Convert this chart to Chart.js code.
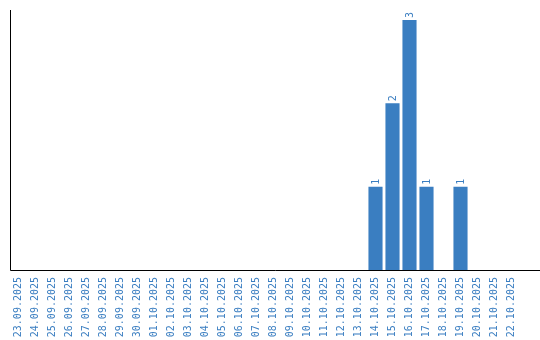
<!DOCTYPE html>
<meta charset="utf-8">
<title>Counts per day</title>
<script src="https://cdn.jsdelivr.net/npm/chart.js@4/dist/chart.umd.min.js"></script>
<style>
body {
	margin: 0;
	background: #fff;
}
.wrap {
	width: 540px;
	height: 340px;
}
</style>

<div class="wrap"><canvas id="c"></canvas></div>

<script>
const days = [
	'23.09.2025', '24.09.2025', '25.09.2025', '26.09.2025', '27.09.2025', '28.09.2025',
	'29.09.2025', '30.09.2025', '01.10.2025', '02.10.2025', '03.10.2025', '04.10.2025',
	'05.10.2025', '06.10.2025', '07.10.2025', '08.10.2025', '09.10.2025', '10.10.2025',
	'11.10.2025', '12.10.2025', '13.10.2025', '14.10.2025', '15.10.2025', '16.10.2025',
	'17.10.2025', '18.10.2025', '19.10.2025', '20.10.2025', '21.10.2025', '22.10.2025',
];
const counts = [
	0, 0, 0, 0, 0, 0,
	0, 0, 0, 0, 0, 0,
	0, 0, 0, 0, 0, 0,
	0, 0, 0, 1, 2, 3,
	1, 0, 1, 0, 0, 0,
];

const blue = '#3a7ec1';
const font = '"DejaVu Sans Mono", monospace';

// axis lines: bottom one runs to the right edge of the canvas
const axisLines = {
	id: 'axisLines',
	afterDraw(chart) {
		const {ctx, chartArea: a} = chart;
		ctx.save();
		ctx.strokeStyle = '#000';
		ctx.lineWidth = 1;
		ctx.beginPath();
		ctx.moveTo(a.left + 0.5, a.top);
		ctx.lineTo(a.left + 0.5, a.bottom + 0.5);
		ctx.lineTo(chart.width, a.bottom + 0.5);
		ctx.stroke();
		ctx.restore();
	}
};

// rotated value labels above the bars
const valueLabels = {
	id: 'valueLabels',
	afterDatasetsDraw(chart) {
		const ctx = chart.ctx;
		const meta = chart.getDatasetMeta(0);
		ctx.save();
		ctx.fillStyle = blue;
		ctx.font = '10px ' + font;
		ctx.textAlign = 'left';
		ctx.textBaseline = 'middle';
		meta.data.forEach((bar, i) => {
			if (!counts[i]) return;
			ctx.save();
			ctx.translate(bar.x + 1, bar.y - 2);
			ctx.rotate(-Math.PI / 2);
			ctx.fillText(String(counts[i]), 0, 0);
			ctx.restore();
		});
		ctx.restore();
	}
};

new Chart(document.getElementById('c'), {
	type: 'bar',
	data: {
		labels: days,
		datasets: [{
			data: counts,
			backgroundColor: blue,
			barPercentage: 1,
			categoryPercentage: 0.83,
		}]
	},
	options: {
		responsive: true,
		maintainAspectRatio: false,
		animation: false,
		layout: {
			padding: {left: 10, top: 10, right: 20, bottom: 0}
		},
		plugins: {
			legend: {display: false},
			tooltip: {enabled: false},
		},
		scales: {
			x: {
				grid: {display: false, drawTicks: false},
				border: {display: false},
				ticks: {
					color: blue,
					font: {family: font, size: 10},
					maxRotation: 90,
					minRotation: 90,
					autoSkip: false,
					padding: 7,
				},
				afterFit: s => { s.height = 70; },
			},
			y: {
				min: 0,
				max: 3.12,
				display: true,
				grid: {display: false, drawTicks: false},
				border: {display: false},
				ticks: {display: false},
				afterFit: s => { s.width = 0; },
			}
		}
	},
	plugins: [axisLines, valueLabels]
});
</script>
